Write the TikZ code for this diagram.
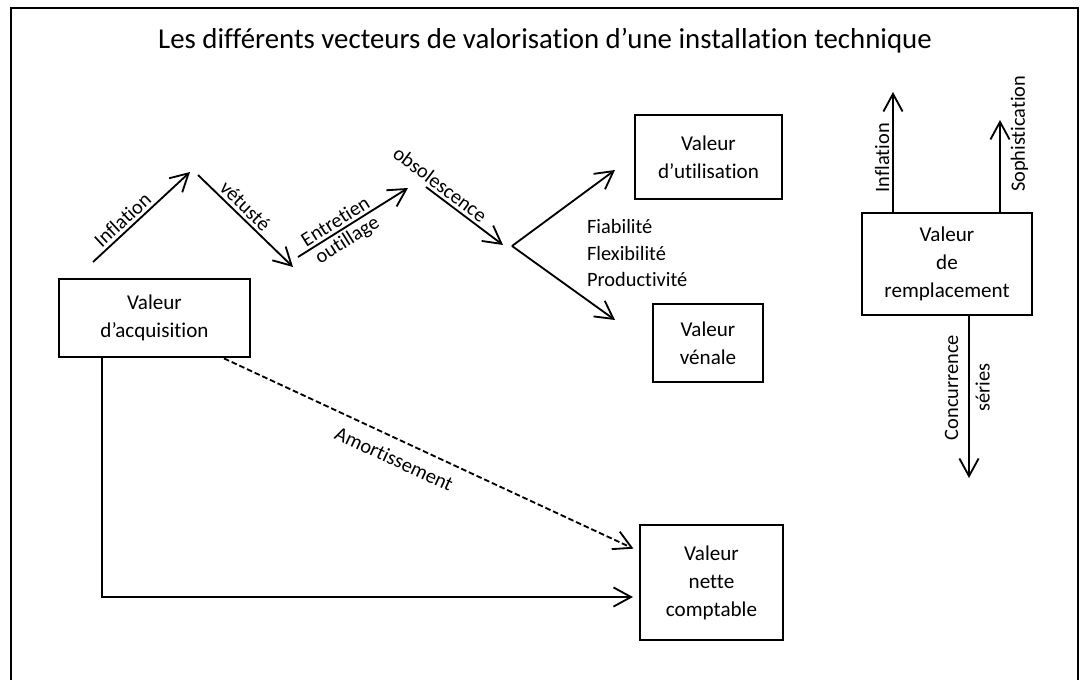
\documentclass[tikz,border=0pt]{standalone}
\usepackage{fontspec}
\setmainfont{Carlito}[Ligatures=NoCommon]
\usetikzlibrary{arrows.meta}

\begin{document}
\begin{tikzpicture}[x=0.025cm,y=-0.025cm,
  boite/.style={draw,line width=2pt,align=center,inner sep=0pt,font=\fontsize{15}{20}\selectfont},
  fleche/.style={line width=1.3pt,-{Straight Barb[length=4.4mm,width=4.8mm]}},
  etiq/.style={font=\fontsize{14.5}{18}\selectfont,inner sep=2pt}]
\useasboundingbox (0,0) rectangle (1082,679);
% cadre + titre
\draw[line width=2pt] (11,8) rectangle (1078,700);
\node (titre) at (545,41) {\fontsize{20.5}{24}\selectfont Les différents vecteurs de valorisation d’une installation technique};

% les boites
\node[boite,minimum width=4.775cm,minimum height=1.95cm] (acq) at (154.5,318) {Valeur\\d’acquisition};
\node[boite,minimum width=3.675cm,minimum height=2.1cm] (util) at (708.5,157) {Valeur\\d’utilisation};
\node[boite,minimum width=2.75cm,minimum height=1.95cm] (venale) at (708,343) {Valeur\\vénale};
\node[boite,minimum width=3.575cm,minimum height=2.875cm] (vnc) at (711.5,582.5) {Valeur\\nette\\comptable};
\node[boite,minimum width=4.25cm,minimum height=2.55cm] (rempl) at (947,264) {Valeur\\de\\remplacement};

% la ligne brisee
\coordinate (i0) at (93,262);
\coordinate (i1) at (190,172);
\coordinate (v0) at (198,175);
\coordinate (v1) at (293,267);
\coordinate (e0) at (298,257);
\coordinate (e1) at (408,188);
\coordinate (o0) at (426,187);
\coordinate (o1) at (503,245);
\coordinate (fourche) at (512,246);
\coordinate (fu) at (615,170);
\coordinate (fv) at (615,320);
\draw[fleche] (i0) -- node[etiq,sloped,above,pos=0.38] {Inflation} (i1);
\draw[fleche] (v0) -- node[etiq,sloped,above,pos=0.42] {vétusté} (v1);
\draw[fleche] (e0) -- node[etiq,sloped,above,pos=0.39] {Entretien}
  node[etiq,sloped,below,pos=0.39] {outillage} (e1);
\draw[fleche] (o0) -- node[etiq,sloped,above,pos=0.1] {obsolescence} (o1);
\draw[fleche] (fourche) -- (fu);
\draw[fleche] (fourche) -- (fv);
\node[etiq,anchor=west,align=left,font=\fontsize{14.5}{18.5}\selectfont] (crit) at (584,253) {Fiabilité\\Flexibilité\\Productivité};

% vers la valeur nette comptable
\coordinate (amo) at (224,551);
\coordinate (coin) at (102,597);
\draw[fleche,dash pattern=on 4pt off 2pt,shorten >=4pt] (acq.south -| amo) -- node[etiq,sloped,below=6pt,pos=0.43] {Amortissement} (vnc.west |- amo);
\draw[fleche,shorten >=4pt] (acq.south -| coin) -- (coin) -- (vnc.west |- coin);

% autour de la valeur de remplacement
\coordinate (ri) at (893,92);
\coordinate (rs) at (1000,120);
\coordinate (rc) at (969,478);
\draw[fleche] (rempl.north -| ri) -- node[etiq,rotate=90,anchor=south,pos=0.45] {Inflation} (ri);
\draw[fleche] (rempl.north -| rs) -- node[etiq,rotate=90,anchor=north,pos=0.85,inner sep=7pt] {Sophistication} (rs);
\draw[fleche] (rempl.south -| rc) -- node[etiq,rotate=90,anchor=south,pos=0.44,inner sep=7pt] {Concurrence}
  node[etiq,rotate=90,anchor=north,pos=0.44,inner sep=4pt] {séries} (rc);
\end{tikzpicture}
\end{document}
